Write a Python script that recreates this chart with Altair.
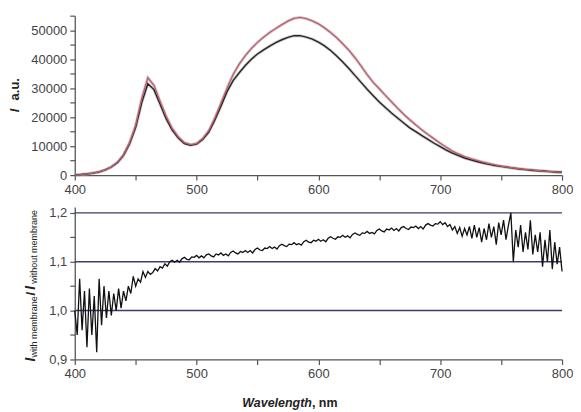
import altair as alt
import pandas as pd

# ---------------- data ----------------
wavelengths = list(range(400, 801, 5))
intensity_without = [
    100, 200, 400, 700, 1100, 1800, 2800, 4300, 6800, 10800,
    16500, 25000, 31500, 29500, 24500, 19500, 15500, 12800, 10900, 10300,
    10700, 12300, 14800, 19000, 23800, 28800, 32600, 35300, 37800, 40000,
    41800, 43200, 44500, 45700, 46700, 47500, 48100, 48100, 47600, 46900,
    45900, 44600, 43000, 41100, 39000, 36800, 34400, 32000, 29600, 27400,
    25200, 23300, 21400, 19700, 18000, 16300, 15000, 13600, 12300, 11000,
    9800, 8600, 7600, 6700, 5900, 5300, 4700, 4200, 3700, 3300,
    3000, 2700, 2400, 2100, 1900, 1700, 1500, 1400, 1200, 1100,
    1000,
]
intensity_with = [
    100, 200, 400, 700, 1100, 1800, 2800, 4400, 7000, 11200,
    17200, 26500, 33600, 31000, 25500, 20300, 16100, 13200, 11200, 10500,
    10900, 12600, 15300, 19700, 24800, 30000, 34700, 38300, 41200, 43700,
    45800, 47600, 49200, 50600, 51900, 53100, 54100, 54400, 54000, 53200,
    52200, 50800, 49200, 47400, 45300, 43100, 40500, 37700, 34700, 32000,
    29800, 27500, 25300, 23100, 21000, 19100, 17300, 15600, 14000, 12500,
    11000, 9600, 8300, 7300, 6400, 5700, 5100, 4500, 4000, 3500,
    3100, 2800, 2500, 2200, 2000, 1800, 1600, 1400, 1300, 1100,
    1000,
]

ratio_wl = list(range(400, 801, 2))
ratio = [
    1.00, 0.95, 1.065, 0.96, 1.04, 0.925, 1.045, 0.95, 1.03, 0.915,
    1.065, 0.97, 1.05, 0.985, 1.04, 0.99, 1.035, 1.00, 1.045, 1.005,
    1.04, 1.02, 1.05, 1.035, 1.07, 1.05, 1.065, 1.058, 1.08, 1.068,
    1.08, 1.074, 1.078, 1.086, 1.081, 1.09, 1.087, 1.096, 1.091, 1.10,
    1.103, 1.099, 1.103, 1.099, 1.106, 1.109, 1.105, 1.104, 1.110, 1.109,
    1.113, 1.108, 1.112, 1.108, 1.114, 1.116, 1.112, 1.110, 1.116, 1.114,
    1.118, 1.113, 1.116, 1.112, 1.119, 1.122, 1.118, 1.116, 1.121, 1.119,
    1.123, 1.119, 1.123, 1.118, 1.125, 1.128, 1.124, 1.123, 1.128, 1.127,
    1.131, 1.127, 1.130, 1.126, 1.133, 1.136, 1.133, 1.131, 1.136, 1.135,
    1.139, 1.135, 1.137, 1.134, 1.141, 1.144, 1.140, 1.139, 1.144, 1.142,
    1.146, 1.142, 1.145, 1.141, 1.148, 1.151, 1.148, 1.146, 1.151, 1.150,
    1.154, 1.150, 1.153, 1.149, 1.156, 1.159, 1.156, 1.154, 1.159, 1.158,
    1.162, 1.158, 1.160, 1.157, 1.164, 1.167, 1.163, 1.161, 1.167, 1.165,
    1.169, 1.164, 1.168, 1.163, 1.170, 1.172, 1.168, 1.166, 1.171, 1.170,
    1.173, 1.168, 1.172, 1.167, 1.175, 1.178, 1.175, 1.173, 1.178, 1.177,
    1.182, 1.176, 1.18, 1.172, 1.176, 1.165, 1.172, 1.158, 1.17, 1.152,
    1.168, 1.155, 1.172, 1.148, 1.175, 1.15, 1.17, 1.14, 1.168, 1.145,
    1.178, 1.15, 1.172, 1.135, 1.18, 1.155, 1.185, 1.145, 1.175, 1.2,
    1.10, 1.165, 1.13, 1.175, 1.12, 1.16, 1.125, 1.185, 1.115, 1.155,
    1.12, 1.16, 1.09, 1.145, 1.1, 1.165, 1.085, 1.14, 1.095, 1.13,
    1.08,
]

grid_levels = [1.0, 1.1, 1.2]
x_ticks = list(range(400, 801, 50))
y_top_ticks = list(range(0, 55001, 5000))
y_bot_ticks = [0.9, 0.95, 1.0, 1.05, 1.1, 1.15, 1.2]

FONT = "Liberation Sans"
W = 489
H_TOP = 160
H_BOT = 153

spec_df = pd.DataFrame({
    "wl": wavelengths,
    "without": intensity_without,
    "with": intensity_with,
})
ratio_df = pd.DataFrame({"wl": ratio_wl, "r": ratio})
grid_df = pd.DataFrame({"g": grid_levels})

X_LABELS = "datum.value % 100 == 0 ? format(datum.value, 'd') : ''"


def x_enc():
    return alt.X(
        "wl:Q",
        scale=alt.Scale(domain=[400, 800], nice=False, zero=False),
        axis=alt.Axis(values=x_ticks, title=None, labelExpr=X_LABELS,
                      labelOverlap=False, labelFlush=False),
    )


def label(txt, x, y, size=13, weight="bold", style="normal", align="left", angle=0):
    return alt.Chart(pd.DataFrame({"t": [txt]})).mark_text(
        font=FONT, fontSize=size, fontWeight=weight, fontStyle=style,
        align=align, baseline="middle", angle=angle, color="#222",
    ).encode(text="t:N", x=alt.value(x), y=alt.value(y))


top_scale = alt.Scale(domain=[0, 55000], nice=False)


def top_axis():
    return alt.Axis(values=y_top_ticks, title=None, labelOverlap=False,
                    labelExpr="datum.value % 10000 == 0 ? format(datum.value, 'd') : ''")


base_top = alt.Chart(spec_df)
y_wo = alt.Y("without:Q", scale=top_scale, axis=top_axis())
y_w = alt.Y("with:Q", scale=top_scale, axis=top_axis())
halo_b = base_top.mark_line(color="#9a9a9a", strokeWidth=3, opacity=0.5).encode(x=x_enc(), y=y_wo)
line_b = base_top.mark_line(color="#262626", strokeWidth=1.4).encode(x=x_enc(), y=y_wo)
halo_r = base_top.mark_line(color="#a0a0a0", strokeWidth=3, opacity=0.5).encode(x=x_enc(), y=y_w)
line_r = base_top.mark_line(color="#c25a68", strokeWidth=1.3).encode(x=x_enc(), y=y_w)

top = alt.layer(
    halo_b, halo_r, line_b, line_r,
    label("I", -60, 97, size=13, style="italic", angle=270),
    label("a.u.", -60, 85, size=13, angle=270),
).properties(width=W, height=H_TOP)

bot_scale = alt.Scale(domain=[0.9, 1.212], nice=False, zero=False)


def bot_axis():
    return alt.Axis(values=y_bot_ticks, title=None, labelOverlap=False,
                    labelExpr="round(datum.value*100) % 10 == 0 ? replace(format(datum.value, '.1f'), '.', ',') : ''")


grid = alt.Chart(grid_df).mark_rule(color="#3d3d6b", strokeWidth=1.5).encode(
    y=alt.Y("g:Q", scale=bot_scale, axis=bot_axis())
)
ratio_line = alt.Chart(ratio_df).mark_line(color="#111", strokeWidth=1.3).encode(
    x=x_enc(), y=alt.Y("r:Q", scale=bot_scale, axis=bot_axis()))

bottom = alt.layer(
    grid, ratio_line,
    label("I", -44, 155, size=14, style="italic", angle=270),
    label("with membrane", -41, 151, size=9, weight="normal", angle=270),
    label("/", -44, 87, size=13, align="center", angle=270),
    label("I", -44, 83, size=14, style="italic", angle=270),
    label("without membrane", -41, 77, size=9, weight="normal", angle=270),
    label("Wavelength", 238, 197, size=12.5, style="italic", align="right"),
    label(", nm", 238, 197, size=12.5, align="left"),
).properties(width=W, height=H_BOT)

chart = alt.vconcat(top, bottom, spacing=32, bounds="flush").properties(
    padding={"left": 1, "top": 1, "right": 0, "bottom": 0}
).configure_view(stroke=None).configure_axis(
    labelFont=FONT, labelFontSize=13, labelColor="#444",
    domainColor="#555", domainWidth=1.3, tickColor="#555", tickWidth=1.2,
    tickSize=5, labelPadding=3, grid=False,
)

chart.save("out.html", embed_options={"renderer": "svg", "actions": False})
